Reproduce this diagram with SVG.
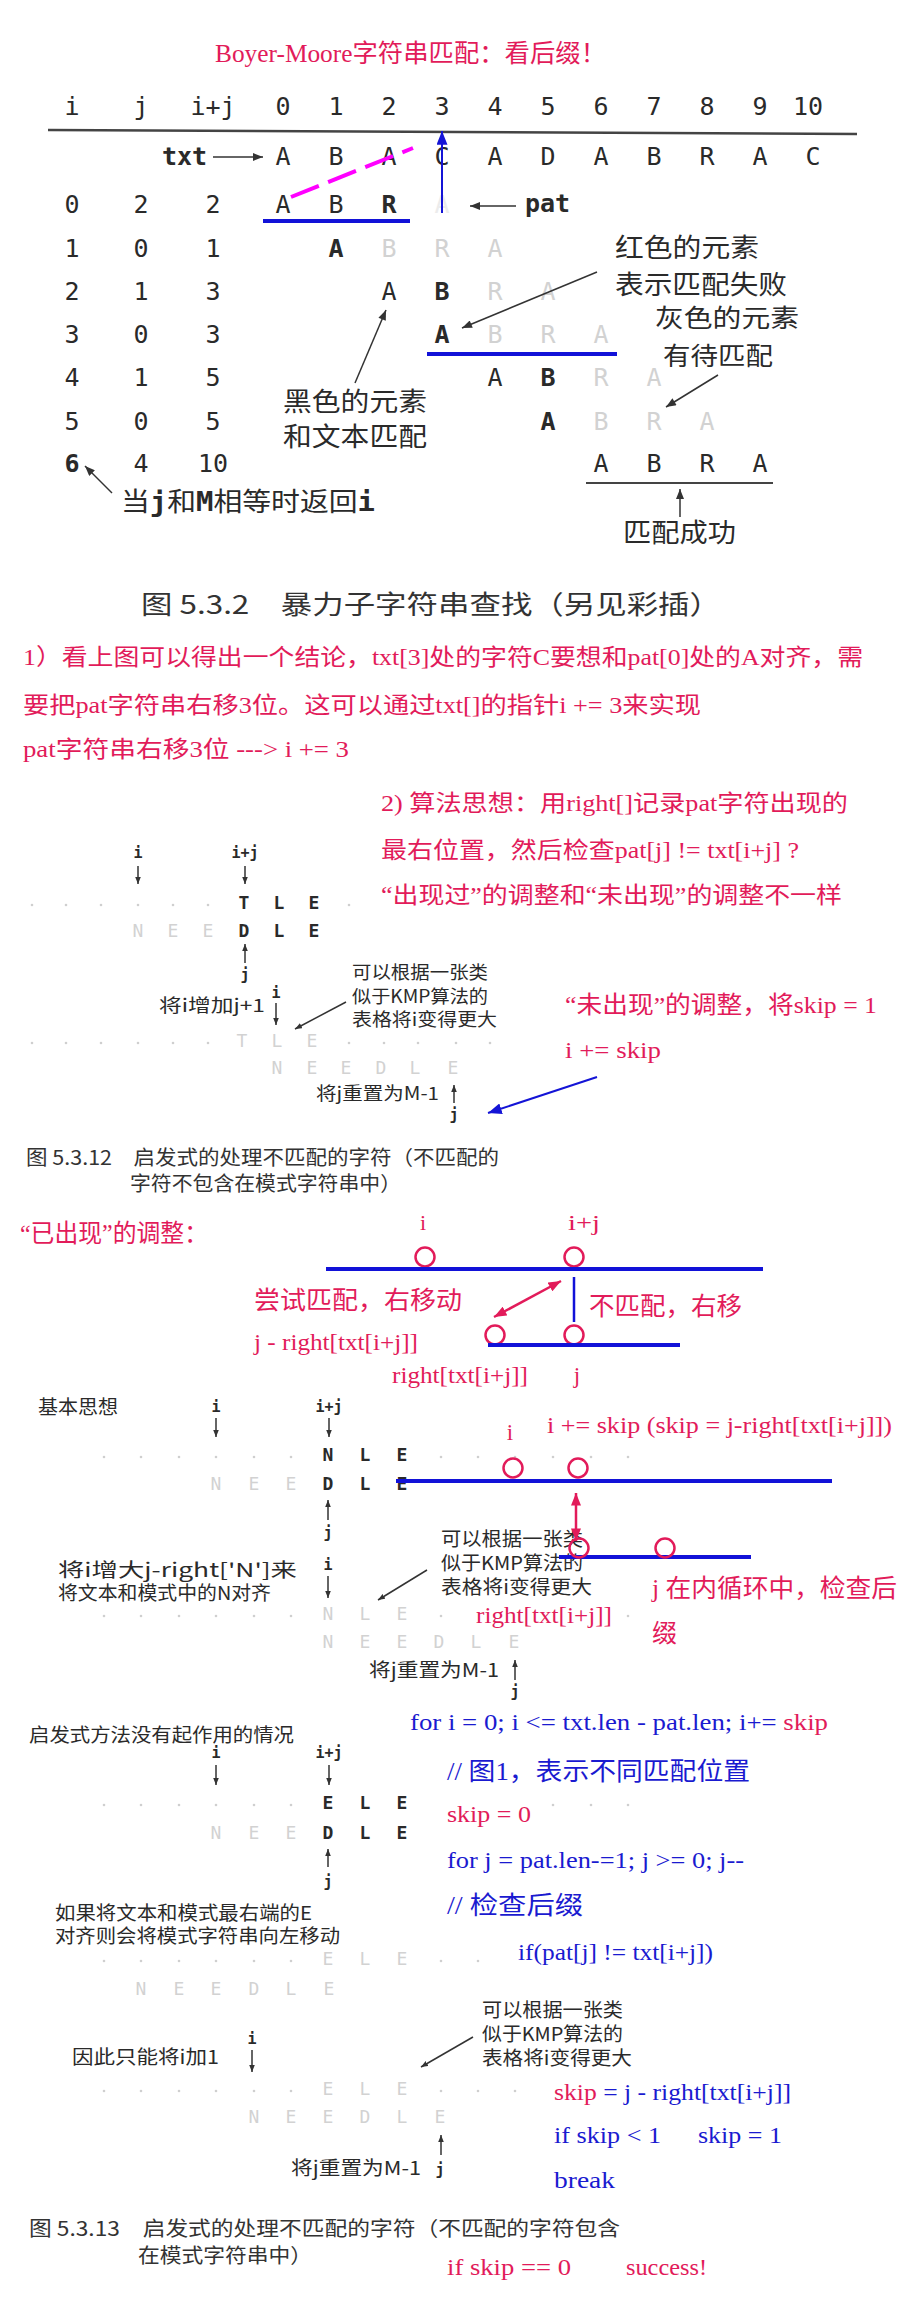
<svg xmlns="http://www.w3.org/2000/svg" width="900" height="2300" viewBox="0 0 900 2300">
<defs>
<marker id="ab" viewBox="0 0 10 8" refX="10" refY="4" markerWidth="11" markerHeight="8" markerUnits="userSpaceOnUse" orient="auto"><path d="M0,0 L10,4 L0,8 z" fill="#333"/></marker>
<marker id="abs" viewBox="0 0 10 8" refX="10" refY="4" markerWidth="7" markerHeight="6" markerUnits="userSpaceOnUse" orient="auto"><path d="M0,0 L10,4 L0,8 z" fill="#333"/></marker>
<marker id="au" viewBox="0 0 10 8" refX="10" refY="4" markerWidth="14" markerHeight="11" markerUnits="userSpaceOnUse" orient="auto"><path d="M0,0 L10,4 L0,8 z" fill="#1414d6"/></marker>
<marker id="ar" viewBox="0 0 10 8" refX="10" refY="4" markerWidth="13" markerHeight="10" markerUnits="userSpaceOnUse" orient="auto-start-reverse"><path d="M0,0 L10,4 L0,8 z" fill="#e21b5a"/></marker>
</defs>
<style>
.r{fill:#e21b5a;font-family:"Liberation Serif","Noto Sans CJK SC",serif}
.b{fill:#1a1ad0;font-family:"Liberation Serif","Noto Sans CJK SC",serif}
.rr{fill:#e21b5a}
.k{fill:#2a2a2a;font-family:"Noto Sans CJK SC",sans-serif}
.m{font-family:"DejaVu Sans Mono",monospace;fill:#2a2a2a;text-anchor:middle}
.mb{font-weight:bold}
.g{fill:#d2d2d2}
.f{fill:#ececec}
.cap{fill:#333;font-family:"Noto Sans CJK SC",sans-serif}
.ln{stroke:#333;stroke-width:1.5;fill:none}
.bl{stroke:#1212d8;stroke-width:4;fill:none}
.rc{stroke:#e21b5a;stroke-width:2.5;fill:none}
.dot{fill:#cfcfcf}
</style>

<rect x="0" y="0" width="900" height="2300" fill="#ffffff"/>

<!-- ===== Figure 5.3.2 ===== -->
<g id="title">
<text class="r" x="215" y="62" font-size="25" textLength="391" lengthAdjust="spacingAndGlyphs">Boyer-Moore字符串匹配：看后缀！</text>
</g>

<g id="fig532-table" font-size="25">
<g id="header">
<text class="m" x="72" y="115">i</text><text class="m" x="141" y="115">j</text><text class="m" x="213" y="115">i+j</text>
<text class="m" x="283" y="115">0</text><text class="m" x="336" y="115">1</text><text class="m" x="389" y="115">2</text><text class="m" x="442" y="115">3</text><text class="m" x="495" y="115">4</text><text class="m" x="548" y="115">5</text><text class="m" x="601" y="115">6</text><text class="m" x="654" y="115">7</text><text class="m" x="707" y="115">8</text><text class="m" x="760" y="115">9</text><text class="m" x="808" y="115">10</text>
<line x1="48" y1="130" x2="857" y2="134" stroke="#444" stroke-width="2.5"/>
</g>
<g id="txt-row">
<text class="m mb" x="162" y="165" style="text-anchor:start">txt</text>
<text class="m" x="283" y="165">A</text><text class="m" x="336" y="165">B</text><text class="m" x="389" y="165">A</text><text class="m" x="442" y="165">C</text><text class="m" x="495" y="165">A</text><text class="m" x="548" y="165">D</text><text class="m" x="601" y="165">A</text><text class="m" x="654" y="165">B</text><text class="m" x="707" y="165">R</text><text class="m" x="760" y="165">A</text><text class="m" x="813" y="165">C</text>
</g>
<g id="row0">
<text class="m" x="72" y="213">0</text><text class="m" x="141" y="213">2</text><text class="m" x="213" y="213">2</text>
<text class="m" x="283" y="213">A</text><text class="m" x="336" y="213">B</text><text class="m mb" x="389" y="213">R</text><text class="m f" x="442" y="213">A</text>
<text class="m mb" x="525" y="212" style="text-anchor:start">pat</text>
</g>
<g id="row1">
<text class="m" x="72" y="257">1</text><text class="m" x="141" y="257">0</text><text class="m" x="213" y="257">1</text>
<text class="m mb" x="336" y="257">A</text><text class="m g" x="389" y="257">B</text><text class="m g" x="442" y="257">R</text><text class="m g" x="495" y="257">A</text>
</g>
<g id="row2">
<text class="m" x="72" y="300">2</text><text class="m" x="141" y="300">1</text><text class="m" x="213" y="300">3</text>
<text class="m" x="389" y="300">A</text><text class="m mb" x="442" y="300">B</text><text class="m g" x="495" y="300">R</text><text class="m g" x="548" y="300">A</text>
</g>
<g id="row3">
<text class="m" x="72" y="343">3</text><text class="m" x="141" y="343">0</text><text class="m" x="213" y="343">3</text>
<text class="m mb" x="442" y="343">A</text><text class="m g" x="495" y="343">B</text><text class="m g" x="548" y="343">R</text><text class="m g" x="601" y="343">A</text>
</g>
<g id="row4">
<text class="m" x="72" y="386">4</text><text class="m" x="141" y="386">1</text><text class="m" x="213" y="386">5</text>
<text class="m" x="495" y="386">A</text><text class="m mb" x="548" y="386">B</text><text class="m g" x="601" y="386">R</text><text class="m g" x="654" y="386">A</text>
</g>
<g id="row5">
<text class="m" x="72" y="430">5</text><text class="m" x="141" y="430">0</text><text class="m" x="213" y="430">5</text>
<text class="m mb" x="548" y="430">A</text><text class="m g" x="601" y="430">B</text><text class="m g" x="654" y="430">R</text><text class="m g" x="707" y="430">A</text>
</g>
<g id="row6">
<text class="m mb" x="72" y="472">6</text><text class="m" x="141" y="472">4</text><text class="m" x="213" y="472">10</text>
<text class="m" x="601" y="472">A</text><text class="m" x="654" y="472">B</text><text class="m" x="707" y="472">R</text><text class="m" x="760" y="472">A</text>
<line x1="586" y1="483" x2="773" y2="483" stroke="#444" stroke-width="2"/>
</g>
</g>

<g id="fig532-labels" class="k" font-size="26">
<text x="615" y="257" textLength="144" lengthAdjust="spacingAndGlyphs">红色的元素</text>
<text x="615" y="294" textLength="172" lengthAdjust="spacingAndGlyphs">表示匹配失败</text>
<text x="655" y="327" font-size="25" textLength="144" lengthAdjust="spacingAndGlyphs">灰色的元素</text>
<text x="663" y="365" font-size="25" textLength="110" lengthAdjust="spacingAndGlyphs">有待匹配</text>
<text x="283" y="411" textLength="144" lengthAdjust="spacingAndGlyphs">黑色的元素</text>
<text x="283" y="446" textLength="144" lengthAdjust="spacingAndGlyphs">和文本匹配</text>
<text x="623" y="542" textLength="113" lengthAdjust="spacingAndGlyphs">匹配成功</text>
<text x="121" y="511" textLength="254" lengthAdjust="spacingAndGlyphs">当<tspan font-family="DejaVu Sans Mono,monospace" font-weight="bold">j</tspan>和<tspan font-family="DejaVu Sans Mono,monospace" font-weight="bold">M</tspan>相等时返回<tspan font-family="DejaVu Sans Mono,monospace" font-weight="bold">i</tspan></text>
</g>

<g id="fig532-connectors">
<line class="ln" x1="213" y1="157" x2="263" y2="157" marker-end="url(#ab)"/>
<line class="ln" x1="516" y1="206" x2="470" y2="206" marker-end="url(#ab)"/>
<line x1="263" y1="221" x2="410" y2="221" class="bl"/>
<line x1="427" y1="354" x2="617" y2="354" class="bl"/>
<line x1="291" y1="197" x2="413" y2="148" stroke="#ff00ff" stroke-width="4" stroke-dasharray="30,10"/>
<line x1="442" y1="213" x2="442" y2="131" stroke="#1414d6" stroke-width="2" marker-end="url(#au)"/>
<line class="ln" x1="597" y1="272" x2="462" y2="328" marker-end="url(#ab)"/>
<line class="ln" x1="718" y1="375" x2="666" y2="407" marker-end="url(#ab)"/>
<line class="ln" x1="355" y1="383" x2="386" y2="310" marker-end="url(#ab)"/>
<line class="ln" x1="680" y1="517" x2="680" y2="489" marker-end="url(#ab)"/>
<line class="ln" x1="112" y1="493" x2="85" y2="466" marker-end="url(#ab)"/>
</g>

<g id="caption532">
<text class="cap" x="141" y="614" font-size="26" textLength="580" lengthAdjust="spacingAndGlyphs">图 5.3.2　暴力子字符串查找（另见彩插）</text>
</g>

<!-- ===== Note 1 ===== -->
<g id="note1" class="r" font-size="23">
<text x="23" y="665" textLength="840" lengthAdjust="spacingAndGlyphs">1）看上图可以得出一个结论，txt[3]处的字符C要想和pat[0]处的A对齐，需</text>
<text x="23" y="713" textLength="678" lengthAdjust="spacingAndGlyphs">要把pat字符串右移3位。这可以通过txt[]的指针i += 3来实现</text>
<text x="23" y="757" textLength="326" lengthAdjust="spacingAndGlyphs">pat字符串右移3位 ---&gt; i += 3</text>
</g>

<!-- ===== Note 2 ===== -->
<g id="note2" class="r" font-size="23">
<text x="381" y="811" textLength="467" lengthAdjust="spacingAndGlyphs">2) 算法思想：用right[]记录pat字符出现的</text>
<text x="381" y="858" textLength="418" lengthAdjust="spacingAndGlyphs">最右位置，然后检查pat[j] != txt[i+j] ?</text>
<text x="381" y="903" textLength="461" lengthAdjust="spacingAndGlyphs">“出现过”的调整和“未出现”的调整不一样</text>
<text x="565" y="1013" font-size="24" textLength="312" lengthAdjust="spacingAndGlyphs">“未出现”的调整，将skip = 1</text>
<text x="565" y="1058" font-size="24" textLength="96" lengthAdjust="spacingAndGlyphs">i += skip</text>
</g>

<!-- ===== Figure 5.3.12 ===== -->
<g id="fig5312">
<text class="m mb" x="138" y="858" font-size="15">i</text>
<text class="m mb" x="245" y="858" font-size="15">i+j</text>
<g font-size="18">
<text class="m mb" x="244" y="909">T</text><text class="m mb" x="279" y="909">L</text><text class="m mb" x="314" y="909">E</text>
<text class="m g" x="138" y="937">N</text><text class="m g" x="173" y="937">E</text><text class="m g" x="208" y="937">E</text>
<text class="m mb" x="244" y="937">D</text><text class="m mb" x="279" y="937">L</text><text class="m mb" x="314" y="937">E</text>
<text class="m g" x="242" y="1047">T</text><text class="m g" x="277" y="1047">L</text><text class="m g" x="312" y="1047">E</text>
<text class="m g" x="277" y="1074">N</text><text class="m g" x="312" y="1074">E</text><text class="m g" x="346" y="1074">E</text><text class="m g" x="381" y="1074">D</text><text class="m g" x="415" y="1074">L</text><text class="m g" x="453" y="1074">E</text>
</g>
<text class="m mb" x="245" y="980" font-size="15">j</text>
<text class="m mb" x="276" y="998" font-size="15">i</text>
<text class="m mb" x="454" y="1120" font-size="15">j</text>
<g class="dot">
<circle cx="32" cy="905" r="1.3"/><circle cx="66" cy="905" r="1.3"/><circle cx="101" cy="905" r="1.3"/><circle cx="138" cy="905" r="1.3"/><circle cx="173" cy="905" r="1.3"/><circle cx="208" cy="905" r="1.3"/><circle cx="349" cy="905" r="1.3"/>
<circle cx="32" cy="1043" r="1.3"/><circle cx="66" cy="1043" r="1.3"/><circle cx="101" cy="1043" r="1.3"/><circle cx="138" cy="1043" r="1.3"/><circle cx="173" cy="1043" r="1.3"/><circle cx="208" cy="1043" r="1.3"/><circle cx="349" cy="1043" r="1.3"/><circle cx="384" cy="1043" r="1.3"/><circle cx="418" cy="1043" r="1.3"/><circle cx="456" cy="1043" r="1.3"/><circle cx="490" cy="1043" r="1.3"/>
</g>
<g class="k" font-size="18">
<text x="159" y="1012" textLength="106" lengthAdjust="spacingAndGlyphs">将i增加j+1</text>
<text x="352" y="979" textLength="136" lengthAdjust="spacingAndGlyphs">可以根据一张类</text>
<text x="352" y="1003" textLength="136" lengthAdjust="spacingAndGlyphs">似于KMP算法的</text>
<text x="352" y="1026" textLength="145" lengthAdjust="spacingAndGlyphs">表格将i变得更大</text>
<text x="316" y="1100" textLength="123" lengthAdjust="spacingAndGlyphs">将j重置为M-1</text>
</g>
</g>
<g id="fig5312-connectors">
<line class="ln" x1="138" y1="866" x2="138" y2="884" marker-end="url(#abs)"/>
<line class="ln" x1="245" y1="866" x2="245" y2="884" marker-end="url(#abs)"/>
<line class="ln" x1="245" y1="963" x2="245" y2="944" marker-end="url(#abs)"/>
<line class="ln" x1="276" y1="1003" x2="276" y2="1025" marker-end="url(#abs)"/>
<line class="ln" x1="346" y1="1002" x2="295" y2="1029" marker-end="url(#abs)"/>
<line class="ln" x1="454" y1="1103" x2="454" y2="1085" marker-end="url(#abs)"/>
<line x1="597" y1="1077" x2="488" y2="1113" stroke="#1414d6" stroke-width="2" marker-end="url(#au)"/>
</g>
<g id="caption5312" class="cap" font-size="20">
<text x="26" y="1165" textLength="473" lengthAdjust="spacingAndGlyphs">图 5.3.12　启发式的处理不匹配的字符（不匹配的</text>
<text x="130" y="1191" textLength="271" lengthAdjust="spacingAndGlyphs">字符不包含在模式字符串中）</text>
</g>

<!-- ===== Appeared adjustment ===== -->
<g id="appeared" class="r">
<text x="20" y="1242" font-size="25" textLength="188" lengthAdjust="spacingAndGlyphs">“已出现”的调整：</text>
<text x="423" y="1230" font-size="22" text-anchor="middle">i</text>
<text x="568" y="1230" font-size="22" textLength="32" lengthAdjust="spacingAndGlyphs">i+j</text>
<text x="254" y="1309" font-size="25" textLength="208" lengthAdjust="spacingAndGlyphs">尝试匹配，右移动</text>
<text x="589" y="1315" font-size="25" textLength="153" lengthAdjust="spacingAndGlyphs">不匹配，右移</text>
<text x="254" y="1350" font-size="23" textLength="164" lengthAdjust="spacingAndGlyphs">j - right[txt[i+j]]</text>
<text x="392" y="1383" font-size="23" textLength="136" lengthAdjust="spacingAndGlyphs">right[txt[i+j]]</text>
<text x="577" y="1383" font-size="23" text-anchor="middle">j</text>
</g>
<g id="appeared-shapes">
<circle class="rc" cx="425" cy="1257" r="9.5"/>
<circle class="rc" cx="574" cy="1257" r="9.5"/>
<line class="bl" x1="326" y1="1269" x2="763" y2="1269"/>
<line x1="574" y1="1277" x2="574" y2="1322" stroke="#1212d8" stroke-width="2.5"/>
<line x1="561" y1="1281" x2="494" y2="1317" stroke="#e21b5a" stroke-width="2.5" marker-start="url(#ar)" marker-end="url(#ar)"/>
<circle class="rc" cx="495" cy="1335" r="9.5"/>
<circle class="rc" cx="574" cy="1335" r="9.5"/>
<line class="bl" x1="488" y1="1345" x2="680" y2="1345"/>
</g>

<!-- ===== Basic idea figure ===== -->
<g id="basic-idea">
<text class="k" x="38" y="1414" font-size="19" textLength="80" lengthAdjust="spacingAndGlyphs">基本思想</text>
<text class="m mb" x="216" y="1412" font-size="15">i</text>
<text class="m mb" x="329" y="1412" font-size="15">i+j</text>
<g font-size="18">
<text class="m mb" x="328" y="1461">N</text><text class="m mb" x="365" y="1461">L</text><text class="m mb" x="402" y="1461">E</text>
<text class="m g" x="216" y="1490">N</text><text class="m g" x="254" y="1490">E</text><text class="m g" x="291" y="1490">E</text>
<text class="m mb" x="328" y="1490">D</text><text class="m mb" x="365" y="1490">L</text><text class="m mb" x="402" y="1490">E</text>
<text class="m g" x="328" y="1620">N</text><text class="m g" x="365" y="1620">L</text><text class="m g" x="402" y="1620">E</text>
<text class="m g" x="328" y="1648">N</text><text class="m g" x="365" y="1648">E</text><text class="m g" x="402" y="1648">E</text><text class="m g" x="439" y="1648">D</text><text class="m g" x="476" y="1648">L</text><text class="m g" x="514" y="1648">E</text>
</g>
<text class="m mb" x="328" y="1538" font-size="15">j</text>
<text class="m mb" x="328" y="1570" font-size="15">i</text>
<text class="m mb" x="515" y="1697" font-size="15">j</text>
<g class="dot">
<circle cx="104" cy="1457" r="1.3"/><circle cx="141" cy="1457" r="1.3"/><circle cx="179" cy="1457" r="1.3"/><circle cx="216" cy="1457" r="1.3"/><circle cx="254" cy="1457" r="1.3"/><circle cx="291" cy="1457" r="1.3"/><circle cx="441" cy="1457" r="1.3"/><circle cx="478" cy="1457" r="1.3"/><circle cx="515" cy="1457" r="1.3"/><circle cx="553" cy="1457" r="1.3"/><circle cx="591" cy="1457" r="1.3"/><circle cx="628" cy="1457" r="1.3"/>
<circle cx="104" cy="1616" r="1.3"/><circle cx="141" cy="1616" r="1.3"/><circle cx="179" cy="1616" r="1.3"/><circle cx="216" cy="1616" r="1.3"/><circle cx="254" cy="1616" r="1.3"/><circle cx="291" cy="1616" r="1.3"/><circle cx="441" cy="1616" r="1.3"/><circle cx="628" cy="1616" r="1.3"/>
</g>
<g class="k" font-size="19">
<text x="441" y="1546" textLength="142" lengthAdjust="spacingAndGlyphs">可以根据一张类</text>
<text x="441" y="1570" textLength="142" lengthAdjust="spacingAndGlyphs">似于KMP算法的</text>
<text x="441" y="1594" textLength="151" lengthAdjust="spacingAndGlyphs">表格将i变得更大</text>
<text x="58" y="1577" textLength="239" lengthAdjust="spacingAndGlyphs">将i增大j-right['N']来</text>
<text x="58" y="1600" textLength="213" lengthAdjust="spacingAndGlyphs">将文本和模式中的N对齐</text>
<text x="369" y="1677" textLength="130" lengthAdjust="spacingAndGlyphs">将j重置为M-1</text>
</g>
</g>
<g id="basic-idea-shapes">
<line class="bl" x1="396" y1="1481" x2="832" y2="1481"/>
<circle class="rc" cx="513" cy="1468" r="9.5"/>
<circle class="rc" cx="578" cy="1468" r="9.5"/>
<line x1="576" y1="1493" x2="576" y2="1541" stroke="#e21b5a" stroke-width="2.5" marker-start="url(#ar)" marker-end="url(#ar)"/>
<line class="bl" x1="559" y1="1557" x2="751" y2="1557"/>
<circle class="rc" cx="579" cy="1548" r="9.5"/>
<circle class="rc" cx="665" cy="1548" r="9.5"/>
</g>
<g id="basic-idea-connectors">
<line class="ln" x1="216" y1="1418" x2="216" y2="1437" marker-end="url(#abs)"/>
<line class="ln" x1="329" y1="1418" x2="329" y2="1437" marker-end="url(#abs)"/>
<line class="ln" x1="328" y1="1520" x2="328" y2="1500" marker-end="url(#abs)"/>
<line class="ln" x1="328" y1="1576" x2="328" y2="1598" marker-end="url(#abs)"/>
<line class="ln" x1="427" y1="1570" x2="378" y2="1600" marker-end="url(#abs)"/>
<line class="ln" x1="515" y1="1680" x2="515" y2="1660" marker-end="url(#abs)"/>
</g>
<g id="basic-idea-notes" class="r">
<text x="547" y="1433" font-size="23" textLength="345" lengthAdjust="spacingAndGlyphs">i += skip (skip = j-right[txt[i+j]])</text>
<text x="510" y="1440" font-size="23" text-anchor="middle">i</text>
<text x="476" y="1623" font-size="23" textLength="136" lengthAdjust="spacingAndGlyphs">right[txt[i+j]]</text>
<text x="652" y="1597" font-size="25" textLength="245" lengthAdjust="spacingAndGlyphs">j 在内循环中，检查后</text>
<text x="652" y="1642" font-size="25">缀</text>
</g>

<!-- ===== Heuristic fails figure ===== -->
<g id="heuristic-fails">
<text class="k" x="29" y="1742" font-size="19" textLength="265" lengthAdjust="spacingAndGlyphs">启发式方法没有起作用的情况</text>
<text class="m mb" x="216" y="1758" font-size="15">i</text>
<text class="m mb" x="329" y="1758" font-size="15">i+j</text>
<g font-size="18">
<text class="m mb" x="328" y="1809">E</text><text class="m mb" x="365" y="1809">L</text><text class="m mb" x="402" y="1809">E</text>
<text class="m g" x="216" y="1839">N</text><text class="m g" x="254" y="1839">E</text><text class="m g" x="291" y="1839">E</text>
<text class="m mb" x="328" y="1839">D</text><text class="m mb" x="365" y="1839">L</text><text class="m mb" x="402" y="1839">E</text>
<text class="m g" x="328" y="1965">E</text><text class="m g" x="365" y="1965">L</text><text class="m g" x="402" y="1965">E</text>
<text class="m g" x="141" y="1995">N</text><text class="m g" x="179" y="1995">E</text><text class="m g" x="216" y="1995">E</text><text class="m g" x="254" y="1995">D</text><text class="m g" x="291" y="1995">L</text><text class="m g" x="329" y="1995">E</text>
<text class="m g" x="328" y="2095">E</text><text class="m g" x="365" y="2095">L</text><text class="m g" x="402" y="2095">E</text>
<text class="m g" x="254" y="2123">N</text><text class="m g" x="291" y="2123">E</text><text class="m g" x="328" y="2123">E</text><text class="m g" x="365" y="2123">D</text><text class="m g" x="402" y="2123">L</text><text class="m g" x="440" y="2123">E</text>
</g>
<text class="m mb" x="328" y="1887" font-size="15">j</text>
<text class="m mb" x="252" y="2044" font-size="15">i</text>
<text class="m mb" x="440" y="2175" font-size="15">j</text>
<g class="dot">
<circle cx="104" cy="1805" r="1.3"/><circle cx="141" cy="1805" r="1.3"/><circle cx="179" cy="1805" r="1.3"/><circle cx="216" cy="1805" r="1.3"/><circle cx="254" cy="1805" r="1.3"/><circle cx="291" cy="1805" r="1.3"/><circle cx="553" cy="1805" r="1.3"/><circle cx="591" cy="1805" r="1.3"/><circle cx="628" cy="1805" r="1.3"/>
<circle cx="104" cy="1961" r="1.3"/><circle cx="141" cy="1961" r="1.3"/><circle cx="179" cy="1961" r="1.3"/><circle cx="216" cy="1961" r="1.3"/><circle cx="254" cy="1961" r="1.3"/><circle cx="291" cy="1961" r="1.3"/><circle cx="441" cy="1961" r="1.3"/><circle cx="478" cy="1961" r="1.3"/>
<circle cx="104" cy="2091" r="1.3"/><circle cx="141" cy="2091" r="1.3"/><circle cx="179" cy="2091" r="1.3"/><circle cx="216" cy="2091" r="1.3"/><circle cx="254" cy="2091" r="1.3"/><circle cx="291" cy="2091" r="1.3"/><circle cx="441" cy="2091" r="1.3"/><circle cx="478" cy="2091" r="1.3"/><circle cx="515" cy="2091" r="1.3"/>
</g>
<g class="k" font-size="19">
<text x="55" y="1920" textLength="257" lengthAdjust="spacingAndGlyphs">如果将文本和模式最右端的E</text>
<text x="55" y="1943" textLength="285" lengthAdjust="spacingAndGlyphs">对齐则会将模式字符串向左移动</text>
<text x="482" y="2017" textLength="141" lengthAdjust="spacingAndGlyphs">可以根据一张类</text>
<text x="482" y="2041" textLength="141" lengthAdjust="spacingAndGlyphs">似于KMP算法的</text>
<text x="482" y="2065" textLength="150" lengthAdjust="spacingAndGlyphs">表格将i变得更大</text>
<text x="72" y="2064" textLength="147" lengthAdjust="spacingAndGlyphs">因此只能将i加1</text>
<text x="291" y="2175" textLength="130" lengthAdjust="spacingAndGlyphs">将j重置为M-1</text>
</g>
</g>
<g id="heuristic-fails-connectors">
<line class="ln" x1="216" y1="1765" x2="216" y2="1785" marker-end="url(#abs)"/>
<line class="ln" x1="329" y1="1765" x2="329" y2="1785" marker-end="url(#abs)"/>
<line class="ln" x1="328" y1="1867" x2="328" y2="1849" marker-end="url(#abs)"/>
<line class="ln" x1="252" y1="2050" x2="252" y2="2072" marker-end="url(#abs)"/>
<line class="ln" x1="473" y1="2037" x2="421" y2="2067" marker-end="url(#abs)"/>
<line class="ln" x1="441" y1="2155" x2="441" y2="2135" marker-end="url(#abs)"/>
</g>

<!-- ===== Pseudocode ===== -->
<g id="code">
<text class="b" x="410" y="1730" font-size="24" textLength="418" lengthAdjust="spacingAndGlyphs">for i = 0; i &lt;= txt.len - pat.len; i+= <tspan class="rr">skip</tspan></text>
<text class="b" x="447" y="1780" font-size="25" textLength="303" lengthAdjust="spacingAndGlyphs">// 图1，表示不同匹配位置</text>
<text class="r" x="447" y="1822" font-size="24" textLength="84" lengthAdjust="spacingAndGlyphs">skip = 0</text>
<text class="b" x="447" y="1868" font-size="24" textLength="297" lengthAdjust="spacingAndGlyphs">for j = pat.len-=1; j &gt;= 0; j--</text>
<text class="b" x="447" y="1914" font-size="25" textLength="136" lengthAdjust="spacingAndGlyphs">// 检查后缀</text>
<text class="b" x="518" y="1960" font-size="24" textLength="195" lengthAdjust="spacingAndGlyphs">if(pat[j] != txt[i+j])</text>
<text class="b" x="554" y="2100" font-size="24" textLength="237" lengthAdjust="spacingAndGlyphs"><tspan class="rr">skip</tspan> = j - right[txt[i+j]]</text>
<text class="b" x="554" y="2143" font-size="24" textLength="107" lengthAdjust="spacingAndGlyphs">if skip &lt; 1</text>
<text class="b" x="698" y="2143" font-size="24" textLength="84" lengthAdjust="spacingAndGlyphs">skip = 1</text>
<text class="b" x="554" y="2188" font-size="24" textLength="61" lengthAdjust="spacingAndGlyphs">break</text>
<text class="r" x="447" y="2275" font-size="24" textLength="124" lengthAdjust="spacingAndGlyphs">if skip == 0</text>
<text class="r" x="626" y="2275" font-size="24" textLength="81" lengthAdjust="spacingAndGlyphs">success!</text>
</g>

<g id="caption5313" class="cap" font-size="20">
<text x="29" y="2236" textLength="591" lengthAdjust="spacingAndGlyphs">图 5.3.13　启发式的处理不匹配的字符（不匹配的字符包含</text>
<text x="138" y="2263" textLength="174" lengthAdjust="spacingAndGlyphs">在模式字符串中）</text>
</g>
</svg>
